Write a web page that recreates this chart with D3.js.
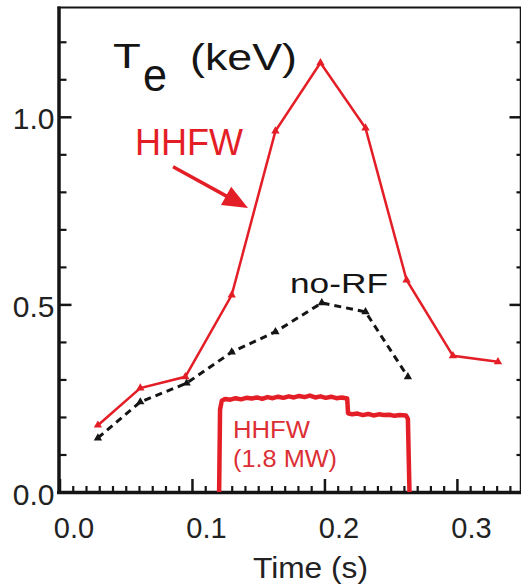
<!DOCTYPE html>
<html><head><meta charset="utf-8">
<script src="https://cdn.jsdelivr.net/npm/d3@7"></script>
<style>body{margin:0;background:#fff} text{font-family:"Liberation Sans",Arial,sans-serif}</style>
</head><body><svg id="c" width="521" height="586"></svg>
<script>
// ---- data ----
const hhfwTime = [0.029, 0.061, 0.095, 0.130, 0.163, 0.197, 0.231, 0.262, 0.297, 0.331];
const hhfwTe   = [0.178, 0.277, 0.307, 0.525, 0.962, 1.144, 0.970, 0.565, 0.363, 0.347];
const noRfTime = [0.029, 0.061, 0.096, 0.130, 0.163, 0.198, 0.231, 0.263];
const noRfTe   = [0.144, 0.240, 0.290, 0.373, 0.427, 0.504, 0.480, 0.307];
const pwrTime = [0.1205, 0.1212, 0.1225, 0.125, 0.129, 0.133, 0.137, 0.141, 0.145, 0.149, 0.153, 0.157, 0.161, 0.165, 0.169, 0.173, 0.177, 0.181, 0.185, 0.189, 0.193, 0.197, 0.201, 0.205, 0.209, 0.213, 0.2172, 0.2178, 0.221, 0.225, 0.229, 0.233, 0.237, 0.241, 0.245, 0.249, 0.253, 0.257, 0.2615, 0.263, 0.2642];
const pwrLevel = [0, 0.220, 0.243, 0.248, 0.246, 0.250, 0.247, 0.251, 0.249, 0.252, 0.248, 0.253, 0.250, 0.254, 0.251, 0.255, 0.252, 0.256, 0.253, 0.257, 0.252, 0.255, 0.251, 0.254, 0.250, 0.252, 0.249, 0.210, 0.207, 0.209, 0.205, 0.208, 0.204, 0.207, 0.205, 0.206, 0.203, 0.205, 0.204, 0.195, 0];
const xTickLabels = [0, 0.1, 0.2, 0.3];
const yTickLabels = [0, 0.5, 1.0];

const RED = "#e41e26", INK = "#151515";
const svg = d3.select("#c");
const x = d3.scaleLinear().domain([0, 0.348]).range([59.5, 520.5]);
const y = d3.scaleLinear().domain([0, 1.29]).range([492, 8]);

const yMinor = d3.ticks(0, 1.2, 12).filter(v => !yTickLabels.some(m => Math.abs(m - v) < 1e-6));
const xMinor = d3.ticks(0, 0.34, 34).filter(v => !xTickLabels.some(m => Math.abs(m - v) < 1e-6));

function styleAxis(g, w) {
  g.select(".domain").remove();
  g.selectAll(".tick line").attr("stroke", INK).attr("stroke-width", w);
}
// left
svg.append("g").attr("transform", `translate(${x(0)},0)`)
  .call(d3.axisLeft(y).tickValues(yTickLabels).tickSize(-12).tickPadding(5).tickFormat(d3.format(".1f")))
  .call(g => styleAxis(g, 2.5))
  .call(g => g.selectAll("text").attr("font-size", 30).attr("fill", "#222").attr("dy", 12).attr("font-family", "Liberation Sans, Arial"));
svg.append("g").attr("transform", `translate(${x(0)},0)`)
  .call(d3.axisLeft(y).tickValues(yMinor).tickSize(-7).tickFormat(""))
  .call(g => styleAxis(g, 2.2));
// right
svg.append("g").attr("transform", `translate(520.5,0)`)
  .call(d3.axisRight(y).tickValues(yTickLabels).tickSize(-11).tickFormat(""))
  .call(g => styleAxis(g, 2.5));
svg.append("g").attr("transform", `translate(520.5,0)`)
  .call(d3.axisRight(y).tickValues(yMinor).tickSize(-4).tickFormat(""))
  .call(g => styleAxis(g, 2.2));
// bottom
svg.append("g").attr("transform", `translate(0,${y(0)})`)
  .call(d3.axisBottom(x).tickValues(xTickLabels).tickSize(-13).tickFormat(d3.format(".1f")))
  .call(g => styleAxis(g, 2.5))
  .call(g => g.selectAll("text").attr("font-size", 29).attr("fill", "#222").attr("y", 46).attr("dy", 0).attr("dx", 14).attr("font-family", "Liberation Sans, Arial"));
svg.append("g").attr("transform", `translate(0,${y(0)})`)
  .call(d3.axisBottom(x).tickValues(xMinor).tickSize(-6).tickFormat(""))
  .call(g => styleAxis(g, 2.2));

// frame
const fr = svg.append("g").attr("stroke", INK).attr("fill", "none");
fr.append("line").attr("x1", 59).attr("x2", 59).attr("y1", 6.5).attr("y2", 494).attr("stroke-width", 3.5);
fr.append("line").attr("x1", 57).attr("x2", 521).attr("y1", 492.5).attr("y2", 492.5).attr("stroke-width", 3.5);
fr.append("line").attr("x1", 57.5).attr("x2", 521).attr("y1", 7.5).attr("y2", 7.5).attr("stroke-width", 2);
fr.append("line").attr("x1", 520.5).attr("x2", 520.5).attr("y1", 7).attr("y2", 494).attr("stroke-width", 1.5);

// power trace
const pwr = pwrTime.map((t, i) => [t, pwrLevel[i]]);
svg.append("path").datum(pwr)
  .attr("d", d3.line().x(d => x(d[0])).y(d => y(d[1])))
  .attr("fill", "none").attr("stroke", RED).attr("stroke-width", 4.5).attr("stroke-linejoin", "round");

// no-RF
const noRf = noRfTime.map((t, i) => [t, noRfTe[i]]);
svg.append("path").datum(noRf)
  .attr("d", d3.line().x(d => x(d[0])).y(d => y(d[1])))
  .attr("fill", "none").attr("stroke", INK).attr("stroke-width", 3).attr("stroke-dasharray", "7,5");
svg.append("g").selectAll("path").data(noRf).join("path")
  .attr("transform", d => `translate(${x(d[0])},${y(d[1])})`)
  .attr("d", d3.symbol(d3.symbolTriangle, 30)).attr("fill", INK);

// HHFW
const hh = hhfwTime.map((t, i) => [t, hhfwTe[i]]);
svg.append("path").datum(hh)
  .attr("d", d3.line().x(d => x(d[0])).y(d => y(d[1])))
  .attr("fill", "none").attr("stroke", RED).attr("stroke-width", 2.5);
svg.append("g").selectAll("path").data(hh).join("path")
  .attr("transform", d => `translate(${x(d[0])},${y(d[1])})`)
  .attr("d", d3.symbol(d3.symbolTriangle, 30)).attr("fill", RED);

// annotations (positions in data units)
function txt(t, v, s, size, fill, len) {
  const e = svg.append("text").attr("x", x(t)).attr("y", y(v)).attr("font-size", size).attr("fill", fill).text(s);
  if (len) e.attr("textLength", len).attr("lengthAdjust", "spacingAndGlyphs");
  return e;
}
// "T" stretched horizontally
svg.append("text").attr("transform", `translate(${x(0.0404)},${y(1.131)}) scale(1.3,1)`)
  .attr("font-size", 35).attr("fill", INK).text("T");
txt(0.0630, 1.070, "e", 46, INK, 24);
txt(0.0985, 1.125, "(keV)", 37, INK, 107);
txt(0.0570, 0.899, "HHFW", 37, RED, 108);
txt(0.174, 0.531, "no-RF", 28, INK, 98);
txt(0.1310, 0.144, "HHFW", 23, "#dc2f35", 77);
txt(0.1310, 0.067, "(1.8 MW)", 23, "#dc2f35", 104);
svg.append("text").attr("x", 253).attr("y", 578).attr("font-size", 30).attr("fill", "#222")
  .attr("textLength", 115).attr("lengthAdjust", "spacingAndGlyphs").text("Time (s)");

// arrow
const a0 = [x(0.0857), y(0.867)], a1 = [x(0.1423), y(0.757)];
const dx = a1[0] - a0[0], dy = a1[1] - a0[1], L = Math.hypot(dx, dy);
const ux = dx / L, uy = dy / L, hl = 25, hw = 10.5;
const bx = a1[0] - hl * ux, by = a1[1] - hl * uy;
svg.append("line").attr("x1", a0[0]).attr("y1", a0[1]).attr("x2", bx + 2 * ux).attr("y2", by + 2 * uy)
  .attr("stroke", RED).attr("stroke-width", 3.5);
svg.append("path").attr("d", `M${a1[0]},${a1[1]}L${bx - hw * uy},${by + hw * ux}L${bx + hw * uy},${by - hw * ux}Z`)
  .attr("fill", RED);
</script></body></html>
